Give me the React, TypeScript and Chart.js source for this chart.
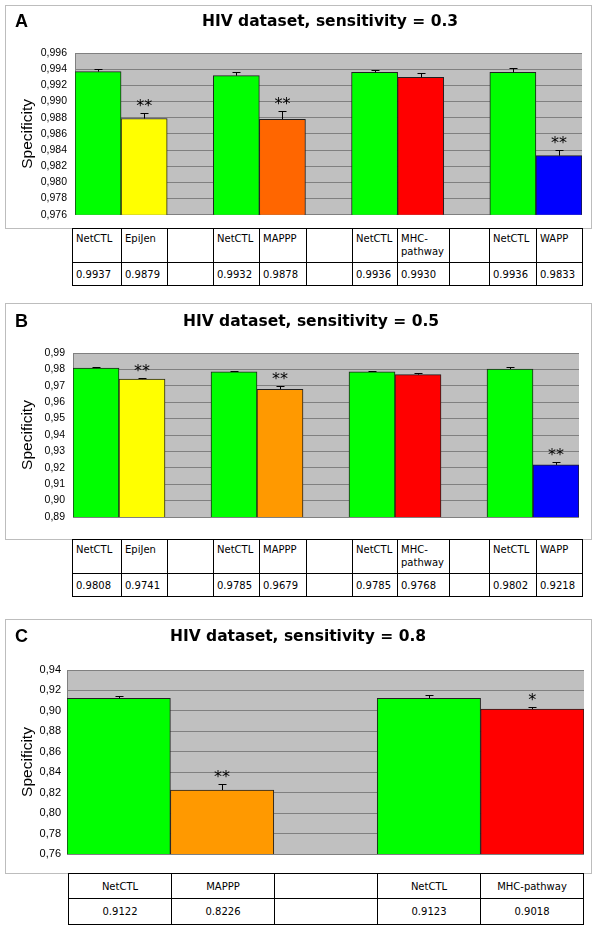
import React, { useEffect, useRef } from "react";
import { Chart, registerables } from "chart.js";
Chart.register(...registerables);

// ---------- Panel A ----------
const categoriesA = ["NetCTL", "EpiJen", "", "NetCTL", "MAPPP", "", "NetCTL", "MHC-pathway", "", "NetCTL", "WAPP"];
const valuesA = [0.9937, 0.9879, null, 0.9932, 0.9878, null, 0.9936, 0.993, null, 0.9936, 0.9833];
const errorsA = [0.0003, 0.0007, null, 0.0004, 0.001, null, 0.00025, 0.0005, null, 0.0005, 0.0007];
const starsA = ["", "**", "", "", "**", "", "", "", "", "", "**"];
const colorsA = ["#00ff00", "#ffff00", "#c0c0c0", "#00ff00", "#ff6600", "#c0c0c0", "#00ff00", "#ff0000", "#c0c0c0", "#00ff00", "#0000ff"];
const ticksA = [0.976, 0.978, 0.98, 0.982, 0.984, 0.986, 0.988, 0.99, 0.992, 0.994, 0.996];

// ---------- Panel B ----------
const categoriesB = ["NetCTL", "EpiJen", "", "NetCTL", "MAPPP", "", "NetCTL", "MHC-pathway", "", "NetCTL", "WAPP"];
const valuesB = [0.9808, 0.9741, null, 0.9785, 0.9679, null, 0.9785, 0.9768, null, 0.9802, 0.9218];
const errorsB = [0.0008, 0.0009, null, 0.0006, 0.0022, null, 0.0006, 0.001, null, 0.0012, 0.0016];
const starsB = ["", "**", "", "", "**", "", "", "", "", "", "**"];
const colorsB = ["#00ff00", "#ffff00", "#c0c0c0", "#00ff00", "#ff9900", "#c0c0c0", "#00ff00", "#ff0000", "#c0c0c0", "#00ff00", "#0000ff"];
const ticksB = [0.89, 0.9, 0.91, 0.92, 0.93, 0.94, 0.95, 0.96, 0.97, 0.98, 0.99];

// ---------- Panel C ----------
const categoriesC = ["NetCTL", "MAPPP", "", "NetCTL", "MHC-pathway"];
const valuesC = [0.9122, 0.8226, null, 0.9123, 0.9018];
const errorsC = [0.0027, 0.0056, null, 0.0033, 0.0023];
const starsC = ["", "**", "", "", "*"];
const colorsC = ["#00ff00", "#ff9900", "#c0c0c0", "#00ff00", "#ff0000"];
const ticksC = [0.76, 0.78, 0.8, 0.82, 0.84, 0.86, 0.88, 0.9, 0.92, 0.94];

const yTitle = "Specificity";

type PanelCfg = {
  letter: string;
  title: string;
  categories: string[];
  values: (number | null)[];
  errors: (number | null)[];
  stars: string[];
  colors: string[];
  ticks: number[];
  decimals: number;
  box: { left: number; top: number; width: number; height: number };
  area: { left: number; right: number; top: number; bottom: number };
  tickPad: number;
  tickSize: number;
  titleX: number;
  titleY: number;
  letterY: number;
};

const panels: PanelCfg[] = [
  {
    letter: "A",
    title: "HIV dataset, sensitivity = 0.3",
    categories: categoriesA, values: valuesA, errors: errorsA, stars: starsA, colors: colorsA, ticks: ticksA,
    decimals: 3,
    box: { left: 5, top: 5, width: 587, height: 224 },
    area: { left: 70, right: 10, top: 48, bottom: 10 },
    tickPad: 8, tickSize: 10.5,
    titleX: 325, titleY: 17, letterY: 17,
  },
  {
    letter: "B",
    title: "HIV dataset, sensitivity = 0.5",
    categories: categoriesB, values: valuesB, errors: errorsB, stars: starsB, colors: colorsB, ticks: ticksB,
    decimals: 2,
    box: { left: 5, top: 303, width: 587, height: 237 },
    area: { left: 68, right: 13, top: 50, bottom: 23 },
    tickPad: 8, tickSize: 10.5,
    titleX: 306, titleY: 19, letterY: 19,
  },
  {
    letter: "C",
    title: "HIV dataset, sensitivity = 0.8",
    categories: categoriesC, values: valuesC, errors: errorsC, stars: starsC, colors: colorsC, ticks: ticksC,
    decimals: 2,
    box: { left: 5, top: 619, width: 587, height: 255 },
    area: { left: 62, right: 8, top: 51, bottom: 20 },
    tickPad: 6, tickSize: 11,
    titleX: 293, titleY: 18, letterY: 18,
  },
];

function ChartPanel({ cfg }: { cfg: PanelCfg }) {
  const ref = useRef<HTMLCanvasElement | null>(null);
  useEffect(() => {
    if (!ref.current) return;
    const bgPlugin = {
      id: "bgPlot",
      beforeDraw(chart: any) {
        const { ctx, chartArea } = chart;
        ctx.save();
        ctx.fillStyle = "#c0c0c0";
        ctx.fillRect(chartArea.left, chartArea.top, chartArea.right - chartArea.left, chartArea.bottom - chartArea.top);
        ctx.restore();
      },
    };
    const errPlugin = {
      id: "errStars",
      afterDatasetsDraw(chart: any) {
        const { ctx } = chart;
        const meta = chart.getDatasetMeta(0);
        const ys = chart.scales.y;
        ctx.save();
        ctx.strokeStyle = "#000";
        ctx.lineWidth = 1;
        cfg.values.forEach((v, i) => {
          if (v == null) return;
          const bar = meta.data[i];
          const x = Math.round(bar.x) + 0.5;
          const yv = ys.getPixelForValue(v);
          const e = cfg.errors[i] || 0;
          const yt = Math.round(ys.getPixelForValue(v + e)) + 0.5;
          ctx.beginPath();
          ctx.moveTo(x, yv);
          ctx.lineTo(x, yt);
          ctx.moveTo(x - 4, yt);
          ctx.lineTo(x + 4, yt);
          ctx.stroke();
          const s = cfg.stars[i];
          if (s) {
            ctx.fillStyle = "#000";
            ctx.font = "16px 'DejaVu Sans'";
            ctx.textAlign = "center";
            ctx.textBaseline = "alphabetic";
            ctx.fillText(s, bar.x, yt - 12 + 9);
          }
        });
        ctx.restore();
      },
      afterDraw(chart: any) {
        const { ctx } = chart;
        ctx.save();
        ctx.fillStyle = "#000";
        ctx.textBaseline = "middle";
        ctx.textAlign = "left";
        ctx.font = "bold 18px 'Liberation Sans'";
        ctx.fillText(cfg.letter, 10, cfg.letterY);
        ctx.textAlign = "center";
        ctx.font = "bold 15.5px 'DejaVu Sans'";
        ctx.fillText(cfg.title, cfg.titleX, cfg.titleY);
        ctx.restore();
      },
    };
    const chart = new Chart(ref.current, {
      type: "bar",
      data: {
        labels: cfg.categories,
        datasets: [
          {
            data: cfg.values as any,
            backgroundColor: cfg.colors,
            borderColor: "#202020",
            borderWidth: 1,
            borderSkipped: false,
            barPercentage: 1,
            categoryPercentage: 1,
          },
        ],
      },
      options: {
        animation: false,
        responsive: false,
        maintainAspectRatio: false,
        events: [],
        layout: { padding: { left: 0, right: cfg.area.right, top: cfg.area.top, bottom: cfg.area.bottom } },
        plugins: { legend: { display: false }, tooltip: { enabled: false }, title: { display: false } },
        scales: {
          x: { display: false, grid: { display: false } },
          y: {
            min: cfg.ticks[0],
            max: cfg.ticks[cfg.ticks.length - 1],
            afterBuildTicks: (scale: any) => {
              scale.ticks = cfg.ticks.map((v) => ({ value: v }));
            },
            afterFit: (scale: any) => {
              scale.width = cfg.area.left;
            },
            ticks: {
              padding: cfg.tickPad,
              color: "#000",
              font: { family: "'Liberation Sans', Arial, sans-serif", size: cfg.tickSize },
              callback: (v: any) => Number(v).toFixed(cfg.decimals).replace(".", ","),
              autoSkip: false,
            },
            grid: { color: "#808080", drawTicks: false, lineWidth: 1 },
            border: { display: true, color: "#808080" },
            title: {
              display: true,
              text: yTitle,
              color: "#000",
              font: { family: "'Liberation Sans', Arial, sans-serif", size: 15.5, weight: "normal" },
              padding: { top: 13, bottom: 0 },
            },
          },
        },
      },
      plugins: [bgPlugin, errPlugin],
    });
    return () => chart.destroy();
  }, [cfg]);
  const b = cfg.box;
  return (
    <>
      <div
        style={{
          position: "absolute",
          left: b.left,
          top: b.top,
          width: b.width,
          height: b.height,
          border: "1px solid #bdbdbd",
          boxSizing: "border-box",
          background: "#fff",
        }}
      />
      <canvas
        ref={ref}
        width={b.width}
        height={b.height}
        style={{ position: "absolute", left: b.left, top: b.top, width: b.width, height: b.height }}
      />
    </>
  );
}

const colWidths11 = [49, 46, 46, 46, 47, 46, 45, 52, 40, 47, 46];

function SmallTable({ cats, vals, top }: { cats: string[]; vals: (number | null)[]; top: number }) {
  const td: React.CSSProperties = {
    border: "1px solid #000",
    padding: "3px 3px",
    verticalAlign: "top",
    lineHeight: "13px",
    overflow: "hidden",
  };
  return (
    <table
      style={{
        position: "absolute",
        left: 72,
        top,
        width: 510,
        borderCollapse: "collapse",
        tableLayout: "fixed",
        fontFamily: "'DejaVu Sans', Verdana, sans-serif",
        fontSize: 10,
        color: "#000",
        background: "#fff",
      }}
    >
      <colgroup>
        {colWidths11.map((w, i) => (
          <col key={i} style={{ width: w }} />
        ))}
      </colgroup>
      <tbody>
        <tr style={{ height: 34 }}>
          {cats.map((c, i) => (
            <td key={i} style={td}>{c}</td>
          ))}
        </tr>
        <tr style={{ height: 23 }}>
          {vals.map((v, i) => (
            <td key={i} style={{ ...td, verticalAlign: "middle" }}>{v == null ? "" : v.toFixed(4)}</td>
          ))}
        </tr>
      </tbody>
    </table>
  );
}

function TableC() {
  const td: React.CSSProperties = {
    border: "1px solid #000",
    padding: "0 3px",
    textAlign: "center",
    verticalAlign: "middle",
    lineHeight: "13px",
  };
  return (
    <table
      style={{
        position: "absolute",
        left: 68,
        top: 873,
        width: 516,
        borderCollapse: "collapse",
        tableLayout: "fixed",
        fontFamily: "'DejaVu Sans', Verdana, sans-serif",
        fontSize: 10,
        color: "#000",
        background: "#fff",
      }}
    >
      <tbody>
        <tr style={{ height: 25 }}>
          {categoriesC.map((c, i) => (
            <td key={i} style={td}>{c}</td>
          ))}
        </tr>
        <tr style={{ height: 26 }}>
          {valuesC.map((v, i) => (
            <td key={i} style={td}>{v == null ? "" : v.toFixed(4)}</td>
          ))}
        </tr>
      </tbody>
    </table>
  );
}

export default function App() {
  return (
    <div style={{ position: "absolute", left: 0, top: 0, width: 600, height: 935, background: "#fff", overflow: "hidden" }}>
      {panels.map((p) => (
        <ChartPanel key={p.letter} cfg={p} />
      ))}
      <SmallTable cats={categoriesA} vals={valuesA} top={228} />
      <SmallTable cats={categoriesB} vals={valuesB} top={539} />
      <TableC />
    </div>
  );
}
